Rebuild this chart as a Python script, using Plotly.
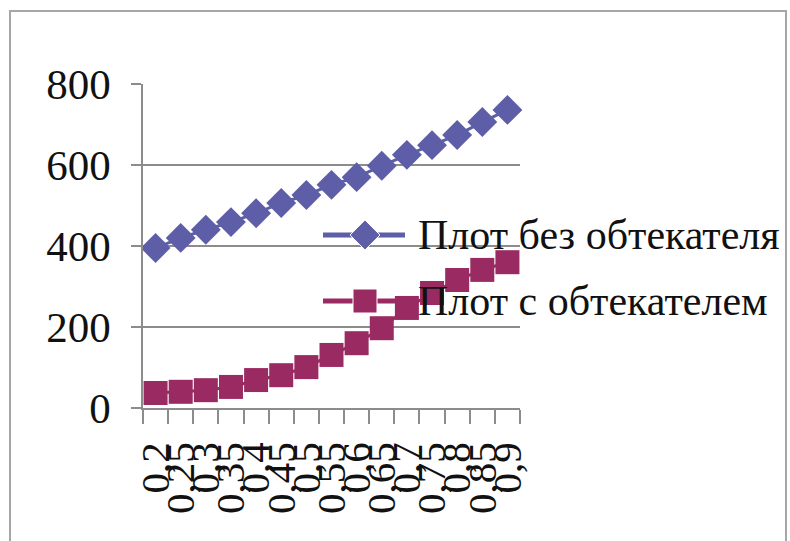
import plotly.graph_objects as go

# Category axis: flow coefficient values (decimal comma labels)
categories = ["0,2", "0,25", "0,3", "0,35", "0,4", "0,45", "0,5", "0,55",
              "0,6", "0,65", "0,7", "0,75", "0,8", "0,85", "0,9"]
tick_labels = categories

series_names = ["Плот без обтекателя", "Плот с обтекателем"]
without_fairing = [395, 420, 440, 459, 481, 506, 526, 551, 570, 598, 625, 649, 674, 706, 736]
with_fairing = [37, 40, 44, 52, 69, 81, 101, 131, 160, 197, 247, 284, 316, 341, 360]
y_ticks = [0, 200, 400, 600, 800]

BLUE = "#5E5EA8"
MAGENTA = "#9A2B62"
GRID = "#8c8c8c"
FONT = "Liberation Serif"

# plot area in pixels
W, H = 790, 541
L, R, T, B = 143, 520, 84, 408


def px_x(p):
    return (p - L) / (R - L)


def px_y(p):
    return (B - p) / (B - T)


fig = go.Figure()

fig.add_trace(go.Scatter(
    x=categories, y=without_fairing, mode="lines+markers", name=series_names[0],
    line=dict(color=BLUE, width=3),
    marker=dict(symbol="diamond", size=23, color=BLUE, opacity=1),
    cliponaxis=False, showlegend=False,
))
fig.add_trace(go.Scatter(
    x=categories, y=with_fairing, mode="lines+markers", name=series_names[1],
    line=dict(color=MAGENTA, width=3),
    marker=dict(symbol="square", size=24, color=MAGENTA, opacity=1),
    cliponaxis=False, showlegend=False,
))

# Legend samples drawn on an overlay axis measured in pixels
legend_rows = [(235, BLUE, "diamond", 23), (301, MAGENTA, "square", 24)]
for (ly, col, sym, sz), name in zip(legend_rows, series_names):
    fig.add_trace(go.Scatter(
        x=[323, 365, 405], y=[ly, ly, ly], xaxis="x2", yaxis="y2",
        mode="lines+markers", line=dict(color=col, width=5),
        marker=dict(symbol=sym, size=[0, sz, 0], color=col, opacity=1),
        cliponaxis=False, showlegend=False, hoverinfo="skip",
    ))
    fig.add_annotation(
        x=px_x(416), y=px_y(ly), xref="paper", yref="paper",
        text=name, showarrow=False, xanchor="left", yanchor="middle",
        font=dict(family=FONT, size=42, color="#111111"),
    )

fig.update_layout(
    width=W, height=H,
    margin=dict(l=L, r=W - R, t=T, b=H - B),
    paper_bgcolor="white", plot_bgcolor="white",
    xaxis=dict(
        type="category", tickmode="array", tickvals=categories, ticktext=tick_labels,
        tickangle=-90, tickson="boundaries", ticks="outside", ticklen=14,
        tickcolor=GRID, tickwidth=1.5, ticklabelstandoff=16,
        showline=True, linecolor=GRID, linewidth=1.5, showgrid=False,
        range=[-0.5, len(categories) - 0.5],
        tickfont=dict(family=FONT, size=41, color="#111111"),
    ),
    yaxis=dict(
        range=[0, 800], tickmode="array", tickvals=y_ticks,
        ticks="outside", ticklen=10, tickcolor=GRID, tickwidth=1.5,
        showline=True, linecolor=GRID, linewidth=1.5,
        showgrid=True, gridcolor=GRID, gridwidth=1.5, zeroline=False,
        ticklabelstandoff=12,
        tickfont=dict(family=FONT, size=43, color="#111111"),
    ),
    xaxis2=dict(overlaying="x", range=[L, R], visible=False),
    yaxis2=dict(overlaying="y", range=[B, T], visible=False),
    shapes=[
        # legend background hides the gridlines behind it
        dict(type="rect", xref="paper", yref="paper", layer="between",
             x0=px_x(313), x1=1.0, y0=px_y(345), y1=px_y(205),
             fillcolor="white", line=dict(width=0)),
        # chart frame
        dict(type="rect", xref="paper", yref="paper", layer="above",
             x0=px_x(10), x1=px_x(786), y0=px_y(548), y1=px_y(11),
             line=dict(color="#a6a6a6", width=2)),
    ],
)

fig.write_html("out.html")
